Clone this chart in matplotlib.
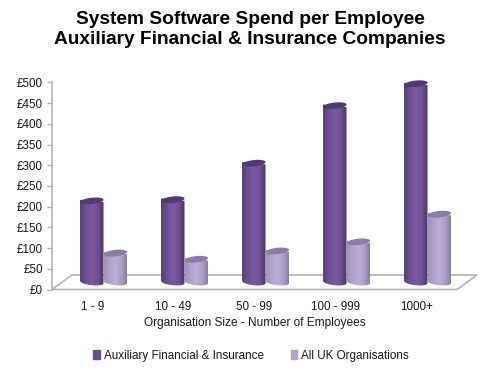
import numpy as np
import matplotlib
matplotlib.use('Agg')
import matplotlib.pyplot as plt
from matplotlib.colors import LinearSegmentedColormap
from matplotlib.patches import Patch, Polygon
from matplotlib.transforms import IdentityTransform

categories = ['1 - 9', '10 - 49', '50 - 99', '100 - 999', '1000+']
aux_values = [196, 199, 287, 426, 479]
uk_values = [70, 55, 75, 97, 164]
y_ticks = [0, 50, 100, 150, 200, 250, 300, 350, 400, 450, 500]

plt.rcParams['font.family'] = ['Liberation Sans', 'DejaVu Sans']

DARK = LinearSegmentedColormap.from_list('dark', ['#54407a', '#6f5093', '#7a5a9e', '#6f5093', '#4b3766'])
LIGHT = LinearSegmentedColormap.from_list('light', ['#9d95ad', '#b3a3cd', '#bbaed6', '#ab9dc4', '#7f7a92'])

fig = plt.figure(figsize=(5, 3.72), dpi=100)
ax = fig.add_axes([52 / 500, 1 - 289.5 / 372, 405 / 500, 207 / 372])

x = np.arange(len(categories))
bar_w = 0.29
shift = 0.136   # bars sit back from the labels because of the fake 3D
base = 18       # floor depth, in axis units
depth_x = 20 / 405
depth_y = 14.5 / 207


def cylinders(positions, values, cmap, cap_color):
    bars = ax.bar(positions, values, bar_w, bottom=base, color=cmap(0.5), zorder=3)
    for b in bars:
        x0, y0 = ax.transData.transform((b.get_x(), b.get_y()))
        x1, y1 = ax.transData.transform((b.get_x() + b.get_width(), b.get_y() + b.get_height()))
        cx = (x0 + x1) / 2
        a = (x1 - x0) / 2
        t = np.linspace(np.pi, 2 * np.pi, 30)
        # lower half of the bottom ellipse, slightly tilted
        low = np.c_[cx + a * np.cos(t), y0 + 3.2 * np.sin(t) - 1.2 * np.cos(t)]
        shape = np.vstack([[[x0, y1 + 1.2]], low, [[x1, y1 - 1.2]]])
        clip = Polygon(shape, transform=IdentityTransform())
        grad = np.linspace(0, 1, 64).reshape(1, -1)
        img = ax.imshow(grad, cmap=cmap, aspect='auto', zorder=4,
                        extent=(b.get_x(), b.get_x() + b.get_width(), 0, b.get_y() + b.get_height() + 10))
        img.set_clip_path(clip)
        b.set_visible(False)
        t = np.linspace(0, 2 * np.pi, 60)
        cap = np.c_[cx + a * np.cos(t), y1 + 3.2 * np.sin(t) + 1.2 * np.cos(t)]
        ax.add_patch(Polygon(cap, closed=True, transform=IdentityTransform(),
                             facecolor=cap_color, edgecolor='none', zorder=5, clip_on=False))


ax.set_xlim(-0.5, len(categories) - 0.5)
ax.set_ylim(0, 500)

# floor
floor = [(0, 0), (1, 0), (1 + depth_x, depth_y), (depth_x, depth_y)]
ax.add_patch(Polygon(floor, closed=True, transform=ax.transAxes, facecolor='white',
                     edgecolor='#b4b4b4', linewidth=1.2, clip_on=False, zorder=1))

cylinders(x + shift - bar_w / 2, aux_values, DARK, '#52396f')
cylinders(x + shift + bar_w / 2, uk_values, LIGHT, '#8d7da6')
ax.set_xlim(-0.5, len(categories) - 0.5)
ax.set_ylim(0, 500)

for side in ['top', 'right', 'bottom']:
    ax.spines[side].set_visible(False)
ax.spines['left'].set_color('#b4b4b4')
ax.spines['left'].set_linewidth(1.2)
ax.set_xticks(x)
ax.set_xticklabels(categories, fontsize=8.4, color='#1a1a1a')
ax.set_yticks(y_ticks)
ax.set_yticklabels(['£%d' % v for v in y_ticks], fontsize=8.4, color='#1a1a1a')
ax.tick_params(axis='x', length=0, pad=8)
ax.tick_params(axis='y', length=3.5, color='#b4b4b4', width=1, pad=3)
ax.set_xlabel('Organisation Size - Number of Employees', fontsize=8.6, color='#1a1a1a', labelpad=3)

fig.text(0.5, 1 - 29.5 / 372, 'System Software Spend per Employee\nAuxiliary Financial & Insurance Companies',
         ha='center', va='center', fontsize=13.8, fontweight='bold', color='black', linespacing=1.25)

handles = [Patch(color='#6a4c8c', label='Auxiliary Financial & Insurance'),
           Patch(color='#b3a3cd', label='All UK Organisations')]
fig.legend(handles=handles, loc='center', bbox_to_anchor=(251 / 500, 1 - 355.5 / 372), ncol=2, frameon=False,
           fontsize=8.4, handlelength=0.55, handleheight=0.7, handletextpad=0.35, columnspacing=2.3,
           labelcolor='#1a1a1a')

fig.savefig('out.png', dpi=100)
